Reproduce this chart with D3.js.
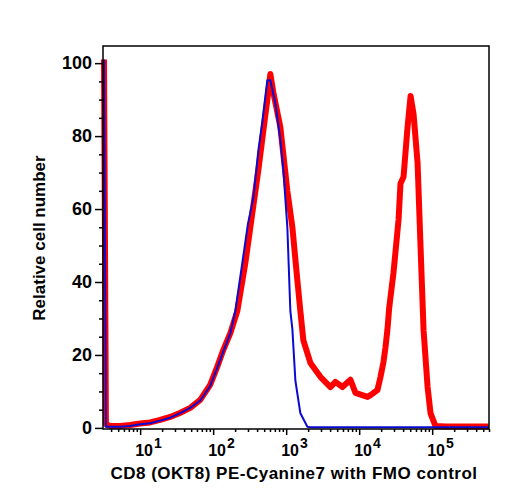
<!DOCTYPE html>
<html lang="en">
<head>
  <meta charset="UTF-8">
  <title>CD8 (OKT8) PE-Cyanine7 with FMO control</title>
  <script src="https://d3js.org/d3.v7.min.js"></script>
  <style>
    body {
      margin: 0;
      background: #fff;
      font-family: "Liberation Sans", Arial, sans-serif;
    }
    text {
      font-weight: bold;
      fill: #000;
    }
  </style>
</head>
<body>
<div id="chart"></div>

<script>
  // stained sample (red) : [intensity, relative cell number]
  var stained = [
    [3.2, 101], [3.4, 1], [3.9, 0.5], [5.3, 0.5], [7.3, 0.8], [10, 1.2], [13.7, 1.5],
    [18.8, 2.2], [25.8, 3], [35, 4.1], [48.5, 5.5], [66.5, 7.7], [91, 11.8], [114, 16.8],
    [138, 21.4], [172, 26], [214, 32], [275, 45], [323, 55], [416, 70.7], [552, 90],
    [607, 97], [667, 92], [832, 82.5], [1038, 65], [1217, 55], [1400, 42], [1566, 32],
    [1721, 24], [2148, 17.8], [2943, 14], [4034, 11.2], [4727, 12.6], [5900, 11.2],
    [7598, 13.2], [8900, 9.6], [13000, 8.5], [14300, 9], [17800, 10.4], [19600, 14],
    [21500, 18], [22900, 22], [24400, 27], [25800, 33], [29500, 42.5], [34600, 57],
    [36800, 67], [40500, 68.8], [46000, 82.5], [50600, 91], [55600, 86], [63100, 72.6],
    [69300, 49.6], [76200, 26.8], [86500, 11.2], [95000, 4], [111000, 0.5],
    [153000, 0.4], [594000, 0.4]
  ];

  // FMO control (blue)
  var fmo = [
    [3.2, 101], [3.4, 0.3], [3.9, 0.3], [5.3, 0.3], [7.3, 0.5], [10, 1], [13.7, 1.3],
    [18.8, 2], [25.8, 2.8], [35, 4], [48.5, 5.5], [66.5, 7.5], [91, 11.5], [114, 16.5],
    [138, 21], [172, 26], [201, 32], [250, 45], [300, 56], [355, 63], [416, 76], [472, 84],
    [552, 95.3], [607, 95.3], [711, 89], [832, 79], [915, 70.7], [1038, 55], [1142, 32],
    [1217, 27], [1337, 13], [1566, 4], [1953, 0.3], [2148, 0.2], [594000, 0.2]
  ];

  var xMajor = [1, 2, 3, 4, 5];          // exponents of the labelled decades
  var yMajor = [0, 20, 40, 60, 80, 100];

  var width = 508, height = 500;
  var plotL = 103, plotR = 489, plotT = 46, plotB = 429;

  var svg = d3.select("#chart").append("svg")
    .attr("width", width)
    .attr("height", height);

  var x = d3.scaleLog().domain([3.1, 6e5]).range([plotL, plotR]);
  var y = d3.scaleLinear().domain([-0.3, 104.7]).range([plotB, plotT]);

  // minor ticks
  var xMinor = [];
  for (var d = 0; d <= 5; d++) {
    for (var k = 2; k <= 9; k++) {
      var v = k * Math.pow(10, d);
      if (v >= 3.1 && v <= 6e5) xMinor.push(v);
    }
  }
  var yMinor = d3.range(0, 105, 5).filter(v => v % 20 !== 0);

  // curves
  var line = d3.line()
    .x(d => x(d[0]))
    .y(d => y(d[1]));

  svg.append("path")
    .datum(stained)
    .attr("fill", "none")
    .attr("stroke", "#ff0000")
    .attr("stroke-width", 6)
    .attr("stroke-linejoin", "round")
    .attr("d", line);

  svg.append("path")
    .datum(fmo)
    .attr("fill", "none")
    .attr("stroke", "#0a0ad2")
    .attr("stroke-width", 2)
    .attr("stroke-linejoin", "round")
    .attr("d", line);

  // frame
  svg.append("rect")
    .attr("x", plotL)
    .attr("y", plotT)
    .attr("width", plotR - plotL)
    .attr("height", plotB - plotT)
    .attr("fill", "none")
    .attr("stroke", "#000")
    .attr("stroke-width", 1.5);

  // x axis
  var gx = svg.append("g").attr("transform", "translate(0," + plotB + ")");
  gx.append("g")
    .call(d3.axisBottom(x).tickValues(xMinor).tickSize(3).tickFormat(""))
    .call(g => g.select(".domain").remove());
  gx.append("g")
    .call(d3.axisBottom(x).tickValues(xMajor.map(e => Math.pow(10, e))).tickSize(6).tickFormat(""))
    .call(g => g.select(".domain").remove());
  gx.selectAll("line").attr("stroke-width", 1.5);

  xMajor.forEach(function(e) {
    var t = svg.append("text")
      .attr("x", x(Math.pow(10, e)) - 5)
      .attr("y", 456)
      .attr("font-size", 16);
    t.append("tspan").text("10");
    t.append("tspan").attr("dx", 1).attr("dy", -8).attr("font-size", 14).text(e);
  });

  // y axis
  var gy = svg.append("g").attr("transform", "translate(" + plotL + ",0)");
  gy.append("g")
    .call(d3.axisLeft(y).tickValues(yMinor).tickSize(4).tickFormat(""))
    .call(g => g.select(".domain").remove());
  gy.append("g")
    .call(d3.axisLeft(y).tickValues(yMajor).tickSize(8).tickPadding(3))
    .call(g => g.select(".domain").remove())
    .call(g => g.selectAll("text")
      .attr("font-size", 18)
      .attr("font-family", "'Liberation Sans', Arial, sans-serif")
      .attr("font-weight", "bold")
      .attr("fill", "#000"));
  gy.selectAll("line").attr("stroke-width", 1.5);

  // titles
  svg.append("text")
    .attr("x", 294)
    .attr("y", 479)
    .attr("text-anchor", "middle")
    .attr("font-size", 17)
    .attr("letter-spacing", 0.5)
    .text("CD8 (OKT8) PE-Cyanine7 with FMO control");

  svg.append("text")
    .attr("transform", "translate(45,238) rotate(-90)")
    .attr("text-anchor", "middle")
    .attr("font-size", 17)
    .text("Relative cell number");
</script>
</body>
</html>
